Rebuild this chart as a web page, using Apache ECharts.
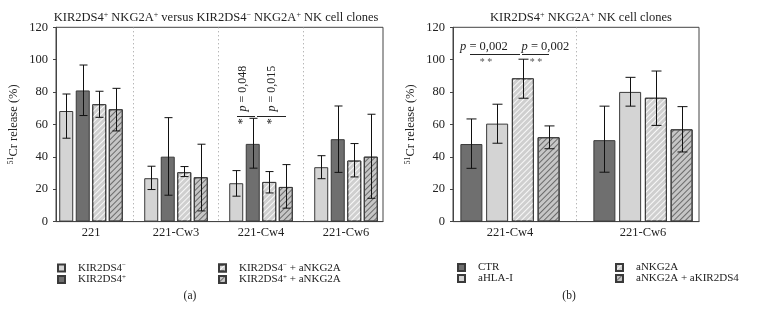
<!DOCTYPE html>
<html><head><meta charset="utf-8">
<script src="https://cdn.jsdelivr.net/npm/echarts@6/dist/echarts.min.js"></script>
<style>html,body{margin:0;padding:0;background:#fff}#c{width:758px;height:323px}</style>
</head><body><div id="c"></div>
<script>
// ---------- Data: panel (a) ----------
const catsA = ['221', '221-Cw3', '221-Cw4', '221-Cw6'];
const namesA = ['KIR2DS4−', 'KIR2DS4+', 'KIR2DS4− + aNKG2A', 'KIR2DS4+ + aNKG2A'];
const a1 = [68.3, 26.8, 23.7, 33.6];
const a1Lo = [51.5, 19.8, 15.7, 26.5];
const a1Hi = [78.8, 34.2, 31.5, 40.7];
const a2 = [81, 40.1, 48, 50.9];
const a2Lo = [65.5, 16.3, 33, 30.4];
const a2Hi = [96.7, 64.2, 63.8, 71.4];
const a3 = [72.5, 30.5, 24.5, 37.7];
const a3Lo = [64.4, 27.8, 17.7, 27.6];
const a3Hi = [80.5, 34, 30.9, 48.2];
const a4 = [69.4, 27.4, 21.4, 40.1];
const a4Lo = [56, 6.6, 8.3, 14.4];
const a4Hi = [82.3, 47.8, 35.2, 66.3];

// ---------- Data: panel (b) ----------
const catsB = ['221-Cw4', '221-Cw6'];
const namesB = ['CTR', 'aHLA-I', 'aNKG2A', 'aNKG2A + aKIR2DS4'];
const b1 = [47.9, 50.3];
const b1Lo = [32.9, 30.5];
const b1Hi = [63.4, 71.3];
const b2 = [60.5, 80.1];
const b2Lo = [48.4, 71.3];
const b2Hi = [72.5, 89.1];
const b3 = [88.5, 76.5];
const b3Lo = [76.2, 59.4];
const b3Hi = [100.3, 93];
const b4 = [52.1, 57];
const b4Lo = [45, 43];
const b4Hi = [59.1, 71];

const yTicks = [0, 20, 40, 60, 80, 100, 120];

// ---------- Styles ----------
const FONT = 'Liberation Serif';
const TXT = '#222';
const BORDER = '#3a3a3a';
const styleLight = { color: '#d4d4d4', borderColor: BORDER, borderWidth: 1 };
const styleDark = { color: '#6f6f6f', borderColor: BORDER, borderWidth: 1 };
const styleHatchW = { color: '#cfcfcf', borderColor: BORDER, borderWidth: 1,
  decal: { symbol: 'rect', symbolSize: 1, dashArrayX: [1, 0], dashArrayY: [1, 3], rotation: -Math.PI / 4, color: 'rgba(255,255,255,0.85)' } };
const styleHatchD = { color: '#c6c6c6', borderColor: BORDER, borderWidth: 1,
  decal: { symbol: 'rect', symbolSize: 1, dashArrayX: [1, 0], dashArrayY: [1, 3], rotation: -Math.PI / 4, color: '#6a6a6a' } };

const rich = {
  n: { fontFamily: FONT, fontSize: 12.5, fontWeight: 'normal', color: TXT },
  s: { fontFamily: FONT, fontSize: 8, fontWeight: 'normal', color: TXT, padding: [0, 0, 6, 0] },
  ln: { fontFamily: FONT, fontSize: 11, fontWeight: 'normal', color: TXT },
  ls: { fontFamily: FONT, fontSize: 7, fontWeight: 'normal', color: TXT, padding: [0, 0, 5, 0] }
};
function legendFmt(name) {
  return name.replace(/KIR2DS4([+−])/g, '{ln|KIR2DS4}{ls|$1}').replace(/ \+ a/g, '{ln| + a}')
    .replace(/\}([^{]+)$/, '}{ln|$1}');
}
function wrapLegend(name) {
  if (name.indexOf('KIR2DS4') === 0) return legendFmt(name);
  return '{ln|' + name + '}';
}

const A_BW = 14, A_GAP = 0.18, B_BW = 22, B_GAP = 0.17;

function errRender(bw, gap, cap) {
  return function (params, api) {
    const c = api.value(0), lo = api.value(1), hi = api.value(2), s = api.value(3);
    const pitch = bw * (1 + gap);
    const off = (s - 1.5) * pitch;
    const pLo = api.coord([c, lo]);
    const pHi = api.coord([c, hi]);
    const x = Math.round(pLo[0] + off) + 0.5;
    const st = { stroke: '#111', lineWidth: 1 };
    return { type: 'group', children: [
      { type: 'line', shape: { x1: x, y1: pLo[1], x2: x, y2: pHi[1] }, style: st },
      { type: 'line', shape: { x1: x - cap / 2, y1: pHi[1], x2: x + cap / 2, y2: pHi[1] }, style: st },
      { type: 'line', shape: { x1: x - cap / 2, y1: pLo[1], x2: x + cap / 2, y2: pLo[1] }, style: st }
    ]};
  };
}
function errData(los, his) {
  const out = [];
  los.forEach((lo, s) => lo.forEach((v, c) => out.push([c, v, his[s][c], s])));
  return out;
}

const TOP = 27.3, BOTTOM = 323 - 221.6;
const grids = [
  { left: 56, top: TOP, width: 327, bottom: BOTTOM, show: true, borderColor: '#444', borderWidth: 1 },
  { left: 48.5, top: TOP, width: 340, bottom: BOTTOM },
  { left: 453, top: TOP, width: 246, bottom: BOTTOM, show: true, borderColor: '#444', borderWidth: 1 },
  { left: 443.5, top: TOP, width: 266, bottom: BOTTOM }
];

function frameY(gi) {
  return { gridIndex: gi, type: 'value', min: 0, max: 120, interval: 20,
    axisLine: { show: true, lineStyle: { color: '#444' } },
    axisTick: { show: true, inside: false, length: 3, lineStyle: { color: '#444' } },
    axisLabel: { fontFamily: FONT, fontSize: 12.5, color: TXT, margin: 8, formatter: v => yTicks.includes(v) ? String(v) : '' },
    splitLine: { show: false },
    name: '{s|51}{n|Cr release (%)}', nameLocation: 'middle', nameGap: 35,
    nameTextStyle: { rich: rich }
  };
}
function hiddenY(gi) {
  return { gridIndex: gi, type: 'value', min: 0, max: 120, interval: 20, show: false };
}
function barsX(gi, cats) {
  return { gridIndex: gi, type: 'category', data: cats,
    axisLine: { show: false }, axisTick: { show: false },
    axisLabel: { fontFamily: FONT, fontSize: 12.5, color: TXT, margin: 5 },
    splitLine: { show: true, showMinLine: false, showMaxLine: false, lineStyle: { color: '#999', type: [1, 3], width: 1 } }
  };
}
function frameX(gi, cats) {
  return { gridIndex: gi, type: 'category', data: cats, axisLine: { show: true, lineStyle: { color: '#444' } },
    axisTick: { show: false }, axisLabel: { show: false }, splitLine: { show: false } };
}

function bar(name, data, xi, yi, style, bw, gap) {
  return { type: 'bar', name: name, data: data, xAxisIndex: xi, yAxisIndex: yi, barWidth: bw,
    barGap: Math.round(gap * 100) + '%', itemStyle: style, z: 2, silent: true };
}

const legendBase = { orient: 'vertical', itemWidth: 7, itemHeight: 7, itemGap: 0, icon: 'rect', selectedMode: false,
  textStyle: { fontFamily: FONT, fontSize: 11, color: TXT, lineHeight: 10, padding: [0, 0, 0, 8], rich: rich },
  formatter: wrapLegend };

const titleTextStyle = { fontFamily: FONT, fontSize: 12.5, fontWeight: 'normal', color: TXT, rich: rich };

const option = {
  animation: false,
  aria: { enabled: false },
  grid: grids,
  title: [
    { text: '{n|KIR2DS4}{s|+}{n| NKG2A}{s|+}{n| versus KIR2DS4}{s|−}{n| NKG2A}{s|+}{n| NK cell clones}',
      left: 211, top: 6, textAlign: 'center', textStyle: titleTextStyle },
    { text: '{n|KIR2DS4}{s|+}{n| NKG2A}{s|+}{n| NK cell clones}',
      left: 576, top: 6, textAlign: 'center', textStyle: titleTextStyle },
    { text: '(a)', left: 185, top: 285, textAlign: 'center', textStyle: { fontFamily: FONT, fontSize: 11.5, fontWeight: 'normal', color: TXT } },
    { text: '(b)', left: 564, top: 285, textAlign: 'center', textStyle: { fontFamily: FONT, fontSize: 11.5, fontWeight: 'normal', color: TXT } }
  ],
  xAxis: [frameX(0, catsA), barsX(1, catsA), frameX(2, catsB), barsX(3, catsB)],
  yAxis: [frameY(0), hiddenY(1), frameY(2), hiddenY(3)],
  legend: [
    Object.assign({}, legendBase, { data: [namesA[0], namesA[1]], left: 52, top: 257 }),
    Object.assign({}, legendBase, { data: [namesA[2], namesA[3]], left: 213, top: 257 }),
    Object.assign({}, legendBase, { data: [namesB[0], namesB[1]], left: 452, top: 257 }),
    Object.assign({}, legendBase, { data: [namesB[2], namesB[3]], left: 610, top: 257 })
  ],
  series: [
    bar(namesA[0], a1, 1, 1, styleLight, A_BW, A_GAP),
    bar(namesA[1], a2, 1, 1, styleDark, A_BW, A_GAP),
    bar(namesA[2], a3, 1, 1, styleHatchW, A_BW, A_GAP),
    bar(namesA[3], a4, 1, 1, styleHatchD, A_BW, A_GAP),
    { type: 'custom', xAxisIndex: 1, yAxisIndex: 1, z: 5, silent: true,
      renderItem: errRender(A_BW, A_GAP, 8),
      data: errData([a1Lo, a2Lo, a3Lo, a4Lo], [a1Hi, a2Hi, a3Hi, a4Hi]), encode: { x: 0, y: [1, 2] } },
    bar(namesB[0], b1, 3, 3, styleDark, B_BW, B_GAP),
    bar(namesB[1], b2, 3, 3, styleLight, B_BW, B_GAP),
    bar(namesB[2], b3, 3, 3, styleHatchW, B_BW, B_GAP),
    bar(namesB[3], b4, 3, 3, styleHatchD, B_BW, B_GAP),
    { type: 'custom', xAxisIndex: 3, yAxisIndex: 3, z: 5, silent: true,
      renderItem: errRender(B_BW, B_GAP, 10),
      data: errData([b1Lo, b2Lo, b3Lo, b4Lo], [b1Hi, b2Hi, b3Hi, b4Hi]), encode: { x: 0, y: [1, 2] } }
  ],
  graphic: [
    // panel (a) significance annotations
    { type: 'line', shape: { x1: 237, y1: 116.5, x2: 255, y2: 116.5 }, style: { stroke: '#222', lineWidth: 1 }, z: 10 },
    { type: 'line', shape: { x1: 257, y1: 116.5, x2: 286, y2: 116.5 }, style: { stroke: '#222', lineWidth: 1 }, z: 10 },
    { type: 'text', x: 243, y: 95, rotation: Math.PI / 2, z: 10,
      style: { text: '{t|*}  {i|p}{t| = 0,048}', align: 'center', verticalAlign: 'middle',
        rich: { t: { fontFamily: FONT, fontSize: 12, fill: TXT }, i: { fontFamily: FONT, fontSize: 12, fontStyle: 'italic', fill: TXT } } } },
    { type: 'text', x: 272, y: 95, rotation: Math.PI / 2, z: 10,
      style: { text: '{t|*}  {i|p}{t| = 0,015}', align: 'center', verticalAlign: 'middle',
        rich: { t: { fontFamily: FONT, fontSize: 12, fill: TXT }, i: { fontFamily: FONT, fontSize: 12, fontStyle: 'italic', fill: TXT } } } },
    // panel (b) significance annotations
    { type: 'text', x: 460, y: 47, z: 10,
      style: { text: '{i|p}{t| = 0,002}', verticalAlign: 'middle',
        rich: { t: { fontFamily: FONT, fontSize: 12.5, fill: TXT }, i: { fontFamily: FONT, fontSize: 12.5, fontStyle: 'italic', fill: TXT } } } },
    { type: 'text', x: 521.5, y: 47, z: 10,
      style: { text: '{i|p}{t| = 0,002}', verticalAlign: 'middle',
        rich: { t: { fontFamily: FONT, fontSize: 12.5, fill: TXT }, i: { fontFamily: FONT, fontSize: 12.5, fontStyle: 'italic', fill: TXT } } } },
    { type: 'line', shape: { x1: 470, y1: 54.5, x2: 520, y2: 54.5 }, style: { stroke: '#222', lineWidth: 1 }, z: 10 },
    { type: 'line', shape: { x1: 522, y1: 54.5, x2: 549, y2: 54.5 }, style: { stroke: '#222', lineWidth: 1 }, z: 10 },
    { type: 'text', x: 486, y: 62, z: 10, style: { text: '* *', align: 'center', verticalAlign: 'middle', fontFamily: FONT, fontSize: 10, fill: '#555' } },
    { type: 'text', x: 536, y: 62, z: 10, style: { text: '* *', align: 'center', verticalAlign: 'middle', fontFamily: FONT, fontSize: 10, fill: '#555' } }
  ]
};

const chart = echarts.init(document.getElementById('c'), null, { renderer: 'canvas' });
chart.setOption(option);
</script>
</body></html>
